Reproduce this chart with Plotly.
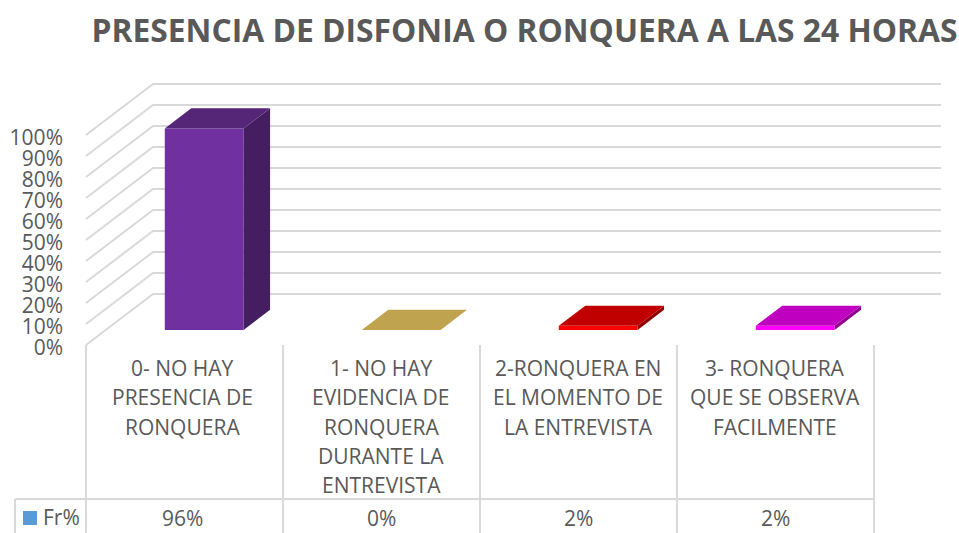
import plotly.graph_objects as go

TITLE = "PRESENCIA DE DISFONIA O RONQUERA A LAS 24 HORAS"
SERIES_NAME = "Fr%"
CATEGORY_LINES = [
    ["0- NO HAY", "PRESENCIA DE", "RONQUERA"],
    ["1- NO HAY", "EVIDENCIA DE", "RONQUERA", "DURANTE LA", "ENTREVISTA"],
    ["2-RONQUERA EN", "EL MOMENTO DE", "LA ENTREVISTA"],
    ["3- RONQUERA", "QUE SE OBSERVA", "FACILMENTE"],
]
VALUES = [96, 0, 2, 2]
TICKS = [0, 10, 20, 30, 40, 50, 60, 70, 80, 90, 100]
FRONT = ["#7030A0", "#BFA34F", "#FF0000", "#FF00FF"]
TOP = ["#552578", "#BFA34F", "#C00000", "#C000C0"]
SIDE = ["#451E61", "#BFA34F", "#900000", "#90008F"]

W, H = 959, 533
PX_LEFT, PX_ZERO = 86, 345
PX_CAT, PX_UNIT = 197.0, 2.1
DEPTH_X, DEPTH_Y = 67 / PX_CAT, 51 / PX_UNIT   # full wall offset in data units
BAR_W = 0.4
D0, D1 = 0.294, 0.689                          # bar front/back depth fractions
GRID = "#D9D9D9"
TEXT = "#595959"
N = len(VALUES)


def py(px):
    return (PX_ZERO - px) / PX_UNIT


def px_x(px):
    return (px - PX_LEFT) / PX_CAT


fig = go.Figure()

shapes = []
for t in TICKS:
    shapes.append(dict(
        type="path", layer="below", xref="x", yref="y",
        path=f"M0,{t} L{DEPTH_X},{t + DEPTH_Y} L{N + DEPTH_X},{t + DEPTH_Y}",
        line=dict(color=GRID, width=2),
    ))

# table grid
grid_x, grid_y = [], []
for i in range(N + 1):
    grid_x += [i, i, None]
    grid_y += [0, py(H), None]
grid_x += [px_x(15), N, None, px_x(15), px_x(15)]
grid_y += [py(499), py(499), None, py(499), py(H)]
fig.add_trace(go.Scatter(x=grid_x, y=grid_y, mode="lines",
                         line=dict(color=GRID, width=2), hoverinfo="skip", showlegend=False))

# bar fronts
fig.add_trace(go.Bar(
    x=[i + 0.5 + D0 * DEPTH_X for i in range(N)],
    y=VALUES,
    base=[D0 * DEPTH_Y] * N,
    width=BAR_W,
    marker=dict(color=FRONT, line=dict(width=0)),
    showlegend=False,
))

# bar tops and sides projected from the values
ox0, oy0 = D0 * DEPTH_X, D0 * DEPTH_Y
ox1, oy1 = D1 * DEPTH_X, D1 * DEPTH_Y
for i, v in enumerate(VALUES):
    xl, xr = i + 0.5 - BAR_W / 2, i + 0.5 + BAR_W / 2
    if v > 0:
        fig.add_trace(go.Scatter(
            x=[xr + ox0, xr + ox1, xr + ox1, xr + ox0, xr + ox0],
            y=[oy0, oy1, oy1 + v, oy0 + v, oy0],
            mode="lines", fill="toself", fillcolor=SIDE[i],
            line=dict(width=0, color=SIDE[i]), hoverinfo="skip", showlegend=False))
    fig.add_trace(go.Scatter(
        x=[xl + ox0, xl + ox1, xr + ox1, xr + ox0, xl + ox0],
        y=[oy0 + v, oy1 + v, oy1 + v, oy0 + v, oy0 + v],
        mode="lines", fill="toself", fillcolor=TOP[i],
        line=dict(width=0, color=TOP[i]), hoverinfo="skip", showlegend=False))

# legend key in the table
fig.add_trace(go.Scatter(x=[px_x(30)], y=[py(518)], mode="markers",
                         marker=dict(symbol="square", size=14, color="#5B9BD5"),
                         hoverinfo="skip", showlegend=False))

annotations = []
FONT = dict(family="Open Sans", size=21, color=TEXT)
LINE_PX = 29.3
for i, lines in enumerate(CATEGORY_LINES):
    nudge = (-2.5 if i == 0 else -0.5) / PX_CAT
    for j, line in enumerate(lines):
        annotations.append(dict(x=i + 0.5 + nudge, y=py(368 + j * LINE_PX), text=line, showarrow=False,
                                xref="x", yref="y", font=FONT, xanchor="center", yanchor="middle"))
    annotations.append(dict(x=i + 0.5 + nudge, y=py(518), text=f"{VALUES[i]}%", showarrow=False,
                            xref="x", yref="y", font=FONT, xanchor="center", yanchor="middle"))
annotations.append(dict(x=px_x(41), y=py(517), text=SERIES_NAME, showarrow=False,
                        xref="x", yref="y", font=FONT, xanchor="left", yanchor="middle"))

fig.update_layout(
    width=W, height=H,
    margin=dict(l=0, r=0, t=0, b=0),
    paper_bgcolor="white", plot_bgcolor="white",
    barmode="overlay",
    showlegend=False,
    title=dict(text=f"<b>{TITLE}</b>", x=524.5 / W, xanchor="center", y=1 - 31 / H, yanchor="middle",
               font=dict(family="Open Sans", size=31.8, color=TEXT)),
    xaxis=dict(visible=False, range=[px_x(0), px_x(W)], fixedrange=True),
    yaxis=dict(range=[py(H), py(0)], tickmode="array", tickvals=TICKS,
               anchor="free", position=PX_LEFT / W,
               ticktext=[f"{t}%" for t in TICKS], showgrid=False, zeroline=False, showline=False,
               ticks="", ticklabelstandoff=23, ticklabelshift=3, automargin=False,
               tickfont=dict(family="Open Sans", size=21, color=TEXT), fixedrange=True),
    shapes=shapes,
    annotations=annotations,
)

fig.write_html("out.html", config=dict(displayModeBar=False),
               post_script="document.body.style.margin='0';")
